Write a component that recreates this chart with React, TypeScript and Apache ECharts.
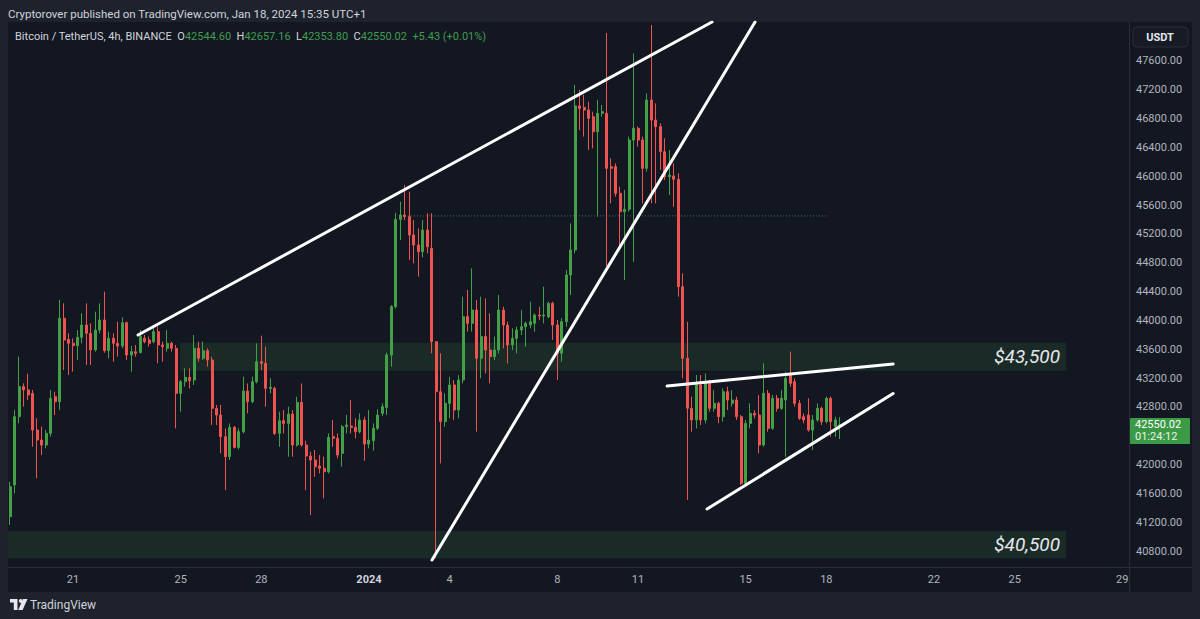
import React, { useEffect, useRef } from "react";
import * as echarts from "echarts";

// ---- data ----
const START = Date.UTC(2023, 11, 18, 16); // first 4h candle
const SLOTS = 250; // category slots on the time axis (incl. empty future)

// [open, close, low, high]
const CANDLES: number[][] = [
  [41277, 41693, 41161, 41762], [41716, 42664, 41600, 42757], [42664, 43081, 42572, 43497], [43081, 43035, 42803, 43127],
  [43035, 42965, 42896, 43261], [42988, 42479, 42248, 43035], [42479, 42340, 41808, 42641], [42340, 42271, 42132, 42526],
  [42271, 42433, 42225, 42479], [42433, 42919, 42387, 43035], [42942, 42872, 42687, 43011], [42872, 44029, 42757, 44283],
  [44029, 43728, 43312, 44237], [43738, 43682, 43243, 43821], [43682, 43650, 43289, 43751], [43650, 43765, 43451, 43867],
  [43765, 43936, 43682, 44099], [43936, 43821, 43381, 44237], [43821, 43590, 43381, 43960], [43590, 43867, 43566, 44121],
  [43867, 44006, 43821, 44237], [44006, 43580, 43552, 44399], [43580, 43752, 43474, 43844], [43752, 43682, 43428, 43821],
  [43682, 43645, 43497, 43983], [43645, 43969, 43613, 44043], [43969, 43520, 43451, 43983], [43520, 43566, 43289, 43645],
  [43566, 43543, 43497, 43659], [43553, 43775, 43543, 43867], [43752, 43705, 43682, 43798], [43728, 43682, 43636, 43775],
  [43705, 43844, 43682, 43913], [43844, 43659, 43405, 43913], [43659, 43636, 43428, 43705], [43613, 43682, 43566, 43867],
  [43682, 43613, 43566, 43705], [43613, 42988, 42502, 43659], [42988, 43150, 42734, 43173], [43150, 43210, 43081, 43335],
  [43210, 43164, 43058, 43335], [43173, 43613, 43104, 43798], [43613, 43474, 43428, 43705], [43474, 43580, 43451, 43705],
  [43580, 43451, 43358, 43613], [43451, 42780, 42549, 43497], [42779, 42687, 42548, 42826], [42687, 42386, 42155, 42826],
  [42386, 42109, 41646, 42502], [42109, 42516, 42062, 42571], [42516, 42238, 42224, 42534], [42238, 42456, 42210, 42502],
  [42456, 43020, 42432, 43219], [43020, 42872, 42710, 43126], [42872, 43150, 42850, 43219], [43150, 43427, 43126, 43682],
  [43427, 43404, 43311, 43788], [43404, 43057, 42803, 43635], [43057, 43071, 42988, 43196], [43057, 42432, 42409, 43080],
  [42432, 42608, 42247, 42733], [42608, 42571, 42432, 42756], [42571, 42701, 42109, 42803], [42701, 42271, 42109, 42756],
  [42271, 42863, 42248, 42941], [42863, 42271, 42248, 43126], [42271, 42118, 41646, 42331], [42118, 42062, 41299, 42178],
  [42062, 41970, 41831, 42201], [41979, 41947, 41877, 42132], [41947, 41900, 41530, 42109], [41900, 42377, 41877, 42432],
  [42386, 42363, 42247, 42618], [42363, 42132, 42085, 42432], [42155, 42525, 41970, 42548], [42525, 42548, 42432, 42687],
  [42534, 42516, 42432, 42895], [42516, 42456, 42363, 42641], [42456, 42618, 42432, 42710], [42618, 42284, 42053, 42664],
  [42284, 42340, 42224, 42756], [42331, 42502, 42192, 42571], [42502, 42687, 42479, 42766], [42710, 42803, 42673, 42849],
  [42793, 43520, 42687, 43552], [43520, 44190, 43358, 44214], [44190, 45402, 44167, 45495], [45402, 45463, 45116, 45648],
  [45463, 45439, 45393, 45879], [45439, 45185, 44838, 45786], [45185, 45046, 44792, 45393], [45046, 44954, 44607, 45277],
  [44954, 45254, 44875, 45393], [45255, 45023, 44931, 45486], [45000, 43705, 43543, 45486], [43705, 43011, 40700, 43705],
  [43011, 42595, 42016, 43543], [42595, 42849, 42525, 42988], [42849, 43104, 42641, 43219], [43104, 42756, 42618, 43173],
  [42756, 43173, 42641, 43242], [43173, 44052, 43127, 44329], [44052, 43959, 43844, 44422], [43959, 44144, 43844, 44723],
  [44144, 43474, 42456, 44283], [43474, 43775, 43196, 44329], [43775, 43589, 43265, 44306], [43589, 43497, 43127, 44098],
  [43497, 43589, 43450, 43775], [43589, 44144, 43543, 44352], [44144, 43936, 43612, 44190], [43936, 43659, 43404, 43983],
  [43659, 43751, 43589, 43890], [43751, 43867, 43543, 43913], [43867, 43913, 43797, 44144], [43913, 43959, 43636, 43983],
  [43936, 43983, 43890, 44260], [43959, 44075, 43844, 44098], [44075, 44061, 44006, 44190], [44061, 44075, 43959, 44468],
  [44052, 44237, 44029, 44260], [44237, 43936, 43728, 44260], [43936, 43543, 43173, 44006], [43543, 43983, 43427, 44029],
  [43983, 44630, 43913, 44700], [44630, 44977, 44352, 45347], [44977, 46976, 44931, 47267], [46976, 46943, 46642, 47198],
  [46957, 46920, 46550, 47129], [46920, 46804, 46365, 47036], [46827, 46619, 46388, 46897], [46619, 46874, 45440, 47058],
  [46874, 46897, 46827, 46989], [46874, 46110, 44746, 47989], [46133, 46110, 45625, 46249], [46133, 45763, 45717, 46180],
  [45763, 45509, 44977, 45856], [45509, 45542, 44561, 45810], [45542, 46503, 45509, 46550], [46503, 46666, 44815, 47706],
  [46666, 46503, 46411, 46689], [46503, 46110, 45625, 46550], [46110, 47059, 46064, 47151], [47059, 46781, 45625, 48100],
  [46781, 46689, 45625, 47012], [46689, 46342, 46087, 46735], [46342, 45995, 45948, 46527], [45995, 46018, 45740, 46365],
  [46004, 45958, 45578, 46180], [45958, 44468, 44329, 46041], [44468, 43474, 43196, 44653], [43474, 42780, 41508, 43982],
  [42780, 42618, 42456, 42942], [42618, 43104, 42502, 43242], [43104, 42618, 42549, 43242], [42618, 43150, 42572, 43265],
  [43150, 42780, 42734, 43173], [42780, 42849, 42734, 43034], [42849, 42664, 42572, 42872], [42664, 43011, 42595, 43057],
  [43011, 42895, 42757, 43080], [42849, 42895, 42803, 43034], [42895, 42664, 42618, 42942], [42664, 41739, 41716, 42687],
  [41739, 42571, 41716, 42618], [42571, 42710, 42502, 42849], [42710, 42687, 42641, 42756], [42687, 42271, 42155, 42965],
  [42271, 42988, 42248, 43404], [42988, 42502, 42456, 43034], [42502, 42919, 42479, 42965], [42919, 42780, 42734, 42965],
  [42780, 42919, 42757, 43034], [42895, 43196, 42109, 43289], [43242, 43127, 43080, 43566], [43150, 42849, 42803, 43196],
  [42849, 42641, 42618, 42895], [42664, 42618, 42572, 42710], [42687, 42479, 42456, 42919], [42479, 42618, 42201, 42687],
  [42618, 42780, 42595, 42849], [42780, 42595, 42549, 42803], [42595, 42919, 42572, 42942], [42919, 42595, 42387, 42942],
  [42525, 42618, 42386, 42664], [42544.6, 42550.02, 42353.8, 42657.16],
];

const TICK_INDEX = [14, 38, 56, 80, 98, 122, 140, 164, 182, 206, 224, 248];
const TICK_LABEL = ["21", "25", "28", "2024", "4", "8", "11", "15", "18", "22", "25", "29"];
const PRICE_TICKS = [40800, 41200, 41600, 42000, 42800, 43200, 43600, 44000, 44400, 44800, 45200, 45600, 46000, 46400, 46800, 47200, 47600];
const Y_MIN = 40578;
const Y_MAX = 48141;

// zones: [fromIndex, toIndex, low, high, label]
const ZONE_UPPER: [number, number, number, number, string] = [37.9, 235.45, 43302, 43691, "$43,500"];
const ZONE_LOWER: [number, number, number, number, string] = [-0.5, 235.45, 40699, 41078, "$40,500"];

// trend lines: [index, price] endpoints
const TREND_1 = [[28.5, 43798], [156.5, 48141]];
const TREND_2 = [[94.06, 40675], [166.1, 48141]];
const TREND_3 = [[146.5, 43090], [196.9, 43395]];
const TREND_4 = [[155.4, 41383], [196.9, 42986]];
const DOTTED_LEVEL = [[88.7, 45450], [182.4, 45450]];

const LAST = { o: "42544.60", h: "42657.16", l: "42353.80", c: "42550.02", chg: "+5.43 (+0.01%)", countdown: "01:24:12", price: 42550.02 };

const UP = "#43a047";
const DOWN = "#ef5350";
const FONT = 'Roboto, "Noto Sans", sans-serif';

echarts.graphic.registerShape(
  "tvlogo",
  echarts.graphic.extendPath("M0 0H7.5V11H3.8V3.6H0Z M13 0H17.5L12.6 11H8.2Z", {})
);

export default function App() {
  const ref = useRef<HTMLDivElement>(null);

  useEffect(() => {
    if (!ref.current) return;
    const chart = echarts.init(ref.current, null, { renderer: "svg" });
    const categories = Array.from({ length: SLOTS }, (_, i) => new Date(START + i * 4 * 3600 * 1000).toISOString());
    const tickMap = new Map<number, string>();
    TICK_INDEX.forEach((t, k) => tickMap.set(t, TICK_LABEL[k]));

    const trend = (d: number[][], name: string) => ({
      type: "line",
      name,
      xAxisIndex: 1,
      data: d,
      symbol: "none",
      silent: true,
      z: 5,
      lineStyle: { color: "#ffffff", width: 3, cap: "round" },
    });

    const zone = (z: [number, number, number, number, string]) => [
      {
        xAxis: z[0],
        yAxis: z[2],
        label: {
          show: true,
          position: "insideRight",
          formatter: z[4],
          color: "#e6e8ee",
          fontSize: 19,
          fontStyle: "italic",
          fontFamily: FONT,
          distance: 6,
        },
      },
      { xAxis: z[1], yAxis: z[3] },
    ];

    chart.setOption({
      animation: false,
      backgroundColor: "transparent",
      textStyle: { fontFamily: FONT },
      grid: { left: 8, right: 71, top: 22, bottom: 52 },
      xAxis: [
        {
          type: "category",
          data: categories,
          boundaryGap: true,
          axisLine: { show: true, lineStyle: { color: "#2a2e39" } },
          axisTick: { show: false },
          splitLine: { show: false },
          axisLabel: {
            interval: (index: number) => tickMap.has(index),
            formatter: (_v: string, index: number) => {
              const s = tickMap.get(index) || "";
              return s === "2024" ? "{b|2024}" : s;
            },
            color: "#b2b5be",
            fontSize: 11,
            margin: 7,
            rich: { b: { fontWeight: "bold", color: "#d1d4dc", fontSize: 11 } },
          },
        },
        { type: "value", min: -0.5, max: SLOTS - 0.5, show: false },
      ],
      yAxis: {
        type: "value",
        position: "right",
        min: Y_MIN,
        max: Y_MAX,
        splitLine: { show: false },
        axisLine: { show: false },
        axisTick: { show: false },
        axisLabel: {
          customValues: PRICE_TICKS,
          formatter: (v: number) => v.toFixed(2),
          color: "#b2b5be",
          fontSize: 11,
          margin: 7,
        },
      },
      series: [
        {
          type: "line",
          name: "level",
          xAxisIndex: 1,
          data: DOTTED_LEVEL,
          symbol: "none",
          silent: true,
          z: 1,
          lineStyle: { color: "#4d6b58", width: 1, type: [1, 2] },
          markArea: {
            silent: true,
            itemStyle: { color: "rgba(76,175,80,0.13)" },
            data: [zone(ZONE_UPPER), zone(ZONE_LOWER)],
          },
        },
        {
          type: "candlestick",
          name: "BTCUSDT",
          xAxisIndex: 0,
          data: CANDLES,
          barWidth: 2.5,
          z: 3,
          itemStyle: { color: UP, color0: DOWN, borderColor: UP, borderColor0: DOWN, borderWidth: 1 },
        },
        trend(TREND_1, "t1"),
        trend(TREND_2, "t2"),
        trend(TREND_3, "t3"),
        trend(TREND_4, "t4"),
      ],
    });

    const py = chart.convertToPixel({ yAxisIndex: 0 }, LAST.price) as number;

    chart.setOption({
      graphic: [
        {
          type: "text",
          left: 8,
          top: 8,
          style: {
            text: "Cryptorover published on TradingView.com, Jan 18, 2024 15:35 UTC+1",
            fill: "#d1d4dc",
            fontSize: 11.5,
            fontFamily: FONT,
          },
        },
        {
          type: "text",
          x: 15,
          y: 31,
          style: {
            text: `{w|Bitcoin / TetherUS, 4h, BINANCE  O}{g|${LAST.o}}{w|  H}{g|${LAST.h}}{w|  L}{g|${LAST.l}}{w|  C}{g|${LAST.c}}{g|  ${LAST.chg}}`,
            fontSize: 11,
            fontFamily: FONT,
            rich: {
              w: { fill: "#d1d4dc", fontSize: 11, fontFamily: FONT },
              g: { fill: "#3f9e4d", fontSize: 11, fontFamily: FONT },
            },
          },
        },
        {
          type: "line",
          shape: { x1: 1129.5, y1: 22, x2: 1129.5, y2: 592 },
          style: { stroke: "#2a2e39", lineWidth: 1 },
        },
        {
          type: "line",
          shape: { x1: 8, y1: 567.5, x2: 1192, y2: 567.5 },
          style: { stroke: "#2a2e39", lineWidth: 1 },
        },
        {
          type: "rect",
          shape: { x: 1133, y: 27, width: 55, height: 20, r: 4 },
          style: { fill: "#171b26", stroke: "#2a2e39", lineWidth: 1 },
        },
        {
          type: "text",
          x: 1160,
          y: 37,
          style: {
            text: "USDT",
            fill: "#e6e8ee",
            fontSize: 11,
            fontWeight: "bold",
            fontFamily: FONT,
            align: "center",
            verticalAlign: "middle",
          },
        },
        {
          type: "rect",
          z: 100,
          shape: { x: 1130, y: py - 7, width: 60, height: 26, r: 1 },
          style: { fill: "#3b9a45" },
        },
        {
          type: "text",
          z: 101,
          x: 1135,
          y: py,
          style: { text: LAST.c, fill: "#ffffff", fontSize: 11, fontFamily: FONT, verticalAlign: "middle" },
        },
        {
          type: "text",
          z: 101,
          x: 1135,
          y: py + 12,
          style: { text: LAST.countdown, fill: "#e8f5e9", fontSize: 11, fontFamily: FONT, verticalAlign: "middle" },
        },
        {
          type: "tvlogo",
          x: 10,
          y: 599,
          scaleX: 1,
          scaleY: 1,
          style: { fill: "#e6e8ee" },
        },
        {
          type: "circle",
          shape: { cx: 10.8 + 10, cy: 601, r: 1.9 },
          style: { fill: "#e6e8ee" },
        },
        {
          type: "text",
          x: 30,
          y: 604.5,
          style: { text: "TradingView", fill: "#d1d4dc", fontSize: 12, fontFamily: FONT, verticalAlign: "middle" },
        },
      ],
    });

    return () => chart.dispose();
  }, []);

  return (
    <div style={{ position: "fixed", left: 0, top: 0, width: 1200, height: 619, background: "#1e222d", overflow: "hidden" }}>
      <div style={{ position: "absolute", left: 8, top: 22, width: 1184, height: 570, background: "#131722" }} />
      <div ref={ref} style={{ position: "absolute", left: 0, top: 0, width: 1200, height: 619 }} />
    </div>
  );
}
